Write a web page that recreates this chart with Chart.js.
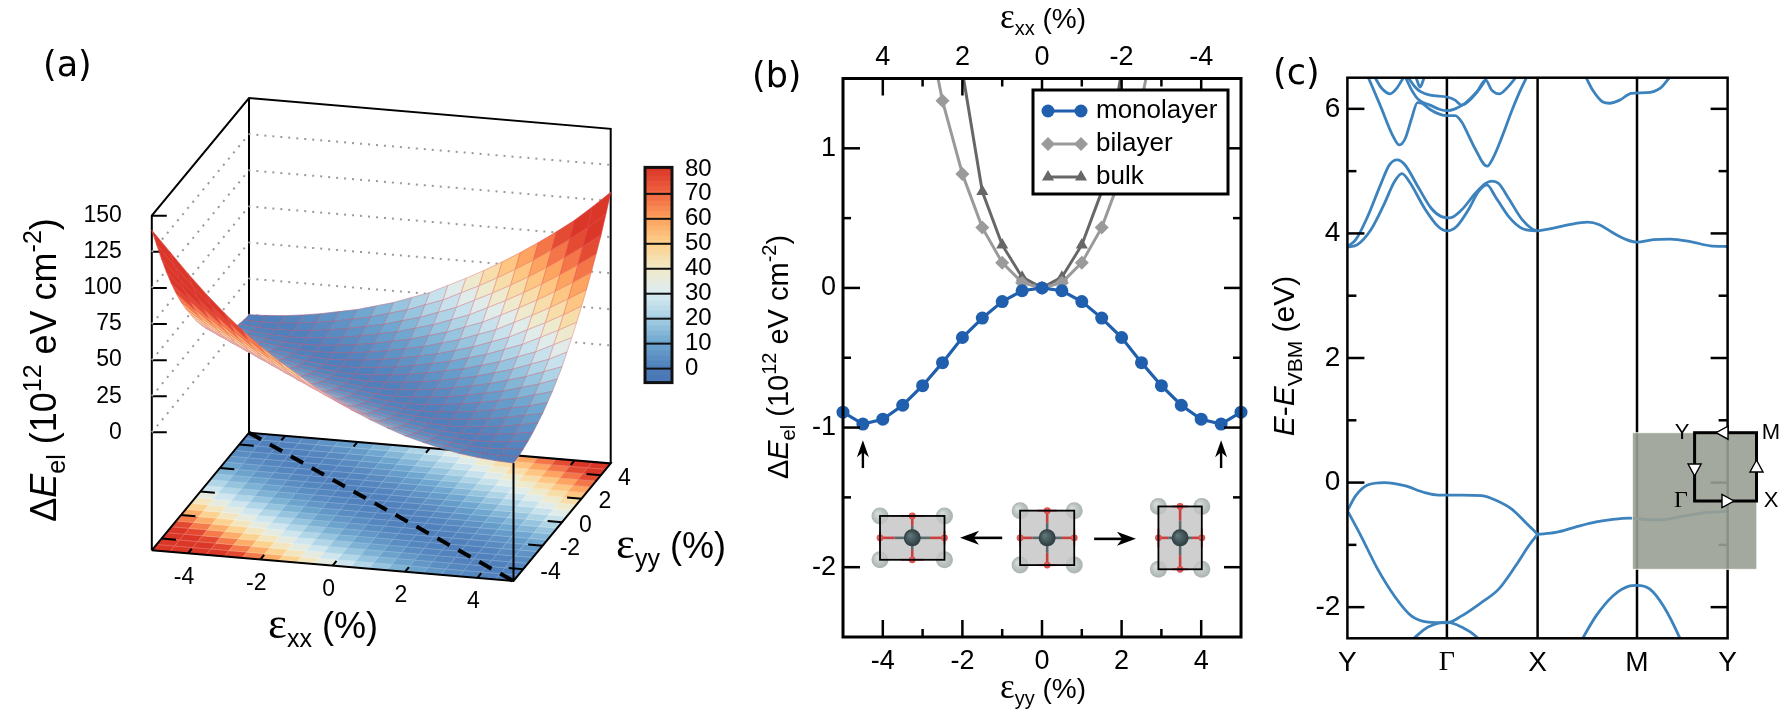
<!DOCTYPE html>
<html>
<head>
<meta charset="utf-8">
<title>Strain panels</title>
<script src="https://cdn.jsdelivr.net/npm/chart.js@4/dist/chart.umd.js"></script>
<style>
    html, body { margin: 0; padding: 0; background: #fff; }
    #page { position: relative; width: 1787px; height: 719px; overflow: hidden; }
    canvas { position: absolute; }
</style>
</head>
<body>
<div id="page">
    <canvas id="panel-a" width="745" height="719" style="left:0;top:0"></canvas>
    <canvas id="panel-bar" width="120" height="270" style="left:620px;top:140px"></canvas>
    <canvas id="panel-b" width="517" height="719" style="left:745px;top:0"></canvas>
    <canvas id="panel-c" width="522" height="719" style="left:1265px;top:0"></canvas>
</div>
<script>
'use strict';

// ---- panel (a): surface, rows are eyy, columns are exx
const strainGrid = [-5,-4.5,-4,-3.5,-3,-2.5,-2,-1.5,-1,-.5,0,.5,1,1.5,2,2.5,3,3.5,4,4.5,5];
const surfaceZ = [
    [140,126,112,99,87,76,66,57,49,41,34,27.5,22,17,12.5,9,6,3.5,1.8,.6,0],
    [126,112,99,87,76,66,57,49,41,34,27.5,22,17,12.5,9,6,3.5,1.8,.6,0,.5],
    [112,99,87,76,66,57,49,41,34,27.5,22,17,12.5,9,6,3.5,1.8,.6,0,.5,1.5],
    [99,87,76,66,57,49,41,34,27.5,22,17,12.5,9,6,3.5,1.8,.6,0,.5,1.5,3],
    [87,76,66,57,49,41,34,27.5,22,17,12.5,9,6,3.5,1.8,.6,0,.5,1.5,3,5],
    [76,66,57,49,41,34,27.5,22,17,12.5,9,6,3.5,1.8,.6,0,.5,1.5,3,5,7.5],
    [66,57,49,41,34,27.5,22,17,12.5,9,6,3.5,1.8,.6,0,.5,1.5,3,5,7.5,10],
    [57,49,41,34,27.5,22,17,12.5,9,6,3.5,1.8,.6,0,.5,1.5,3,5,7.5,10,13.5],
    [49,41,34,27.5,22,17,12.5,9,6,3.5,1.8,.6,0,.5,1.5,3,5,7.5,10,13.5,17],
    [41,34,27.5,22,17,12.5,9,6,3.5,1.8,.6,0,.5,1.5,3,5,7.5,10,13.5,17,21.5],
    [34,27.5,22,17,12.5,9,6,3.5,1.8,.6,0,.5,1.5,3,5,7.5,10,13.5,17,21.5,26],
    [27.5,22,17,12.5,9,6,3.5,1.8,.6,0,.5,1.5,3,5,7.5,10,13.5,17,21.5,26,32],
    [22,17,12.5,9,6,3.5,1.8,.6,0,.5,1.5,3,5,7.5,10,13.5,17,21.5,26,32,38],
    [17,12.5,9,6,3.5,1.8,.6,0,.5,1.5,3,5,7.5,10,13.5,17,21.5,26,32,38,44.5],
    [12.5,9,6,3.5,1.8,.6,0,.5,1.5,3,5,7.5,10,13.5,17,21.5,26,32,38,44.5,51.5],
    [9,6,3.5,1.8,.6,0,.5,1.5,3,5,7.5,10,13.5,17,21.5,26,32,38,44.5,51.5,59],
    [6,3.5,1.8,.6,0,.5,1.5,3,5,7.5,10,13.5,17,21.5,26,32,38,44.5,51.5,59,67],
    [3.5,1.8,.6,0,.5,1.5,3,5,7.5,10,13.5,17,21.5,26,32,38,44.5,51.5,59,67,75.5],
    [1.8,.6,0,.5,1.5,3,5,7.5,10,13.5,17,21.5,26,32,38,44.5,51.5,59,67,75.5,84.5],
    [.6,0,.5,1.5,3,5,7.5,10,13.5,17,21.5,26,32,38,44.5,51.5,59,67,75.5,84.5,95],
    [0,.5,1.5,3,5,7.5,10,13.5,17,21.5,26,32,38,44.5,51.5,59,67,75.5,84.5,95,106]
];
const zTicks = [0,25,50,75,100,125,150];
const floorTicks = [-4,-2,0,2,4];
const barTicks = [0,10,20,30,40,50,60,70,80];
const barSteps = [-5.6,-3,-1,1,3,5,7,9,11,13,15,17,19,21,23,25,27,29,31,33,35,37,39,41,43,45,47,49,51,53,55,57,59,61,63,65,67,69,71,73,75,77,79,80.6];

// ---- panel (b): strain energy
const strainB = [-5,-4.5,-4,-3.5,-3,-2.5,-2,-1.5,-1,-.5,0,.5,1,1.5,2,2.5,3,3.5,4,4.5,5];
const monolayer = [-.89,-.975,-.94,-.84,-.70,-.535,-.355,-.216,-.098,-.02,0,-.02,-.098,-.216,-.355,-.535,-.70,-.84,-.94,-.975,-.89];
const bilayerX = [-3,-2.5,-2,-1.5,-1,-.5,0,.5,1,1.5,2,2.5,3];
const bilayer = [2.05,1.34,.816,.432,.181,.038,0,.038,.181,.432,.816,1.34,2.05];
const bulkX = [-2.5,-2,-1.5,-1,-.5,0,.5,1,1.5,2,2.5];
const bulk = [3,1.55,.69,.308,.077,0,.077,.308,.69,1.55,3];
const bMajorX = [-4,-2,0,2,4];
const bMinorX = [-3,-1,1,3];
const bMajorY = [-2,-1,0,1];
const bMinorY = [-1.5,-.5,.5];
const cellX = [-3.26,.13,3.47];
const cellHalfW = [.81,.68,.545];
const cellHalfH = [.157,.195,.225];
const cellY = -1.79;
const minimumArrowX = [-4.5,4.5];

// ---- panel (c): bands, [path position, energy in eV]
const kPath = [0,99.5,190.2,289.6,380.2];
const kLabels = ['Y','Γ','X','M','Y'];
const cMajorY = [-2,0,2,4,6];
const cMinorY = [-1,1,3,5];
const bandValenceTop = [[0,-.45],[8.4,-.21],[20.2,-.04],[37,0],[57.1,-.05],[77.3,-.16],[90.8,-.2],[114.3,-.2],[134.5,-.21],[147.9,-.28],[164.7,-.43],[178.2,-.64],[190.2,-.83]];
const bandValenceLow = [[0,-.45],[13.4,-.85],[30.3,-1.39],[47,-1.82],[63.9,-2.14],[80.7,-2.24],[99.5,-2.25],[114.3,-2.14],[134.5,-1.92],[151.3,-1.71],[168.1,-1.34],[181.5,-1.01],[190.2,-.83]];
const bandValenceXMY = [[190.2,-.83],[208.4,-.8],[228.6,-.71],[248.7,-.63],[265.5,-.59],[282.4,-.57],[289.4,-.58],[312.6,-.6],[336.1,-.54],[359.7,-.48],[380.2,-.46]];
const bandDomeG = [[60,-2.6],[67.9,-2.48],[80.7,-2.32],[99.5,-2.24],[114.3,-2.32],[129.4,-2.48],[136,-2.6]];
const bandDomeM = [[232,-2.6],[236,-2.48],[248.7,-2.14],[265.5,-1.82],[282.4,-1.66],[289.4,-1.65],[302.5,-1.71],[316,-1.98],[332,-2.48],[335,-2.6]];
const bandCondLow = [[0,3.78],[10,3.82],[23.5,4.06],[37,4.48],[47,4.83],[54.5,4.96],[62,4.83],[77.3,4.4],[90.8,4.11],[99.5,4.04],[109.2,4.11],[121,4.38],[131,4.67],[139.5,4.78],[148,4.59],[161.3,4.27],[174.8,4.08],[190.2,4.04]];
const bandCondHigh = [[0,3.79],[8.4,3.9],[20.2,4.27],[33.6,4.8],[42,5.1],[49.7,5.18],[57.1,5.11],[70.6,4.75],[84,4.4],[94,4.27],[102.5,4.25],[114.3,4.38],[127.7,4.64],[137.8,4.8],[144.5,4.84],[151.3,4.8],[161.3,4.56],[174.8,4.22],[184.9,4.07],[190.2,4.04]];
const bandCondXMY = [[190.2,4.04],[205,4.08],[221.8,4.14],[240.3,4.18],[252,4.14],[265.5,4.01],[279,3.9],[289.4,3.86],[305.9,3.9],[322.7,3.91],[342.9,3.87],[363,3.8],[380.2,3.79]];
const bandUpperMain = [[21,6.5],[32.7,6.06],[46,5.55],[52,5.42],[57.7,5.52],[64.3,5.85],[70,6.1],[74.3,6.09],[82.7,5.99],[92.7,5.91],[99.7,5.89],[107.7,5.89],[114.3,5.79],[121,5.58],[127.7,5.36],[139.7,5.08],[146.2,5.23],[154.6,5.55],[164.7,5.98],[173,6.3],[179,6.5]];
const bandUpperArch = [[27.7,6.5],[34.3,6.33],[42.7,6.24],[49.3,6.33],[56,6.5]];
const bandUpperMid = [[58.3,6.5],[64.3,6.3],[71,6.15],[82.7,6.06],[92.7,5.99],[99.7,5.97],[107.7,6],[117.7,6.09],[129.3,6.27],[138.3,6.46],[144.3,6.3],[152,6.24],[159.3,6.33],[168.3,6.5]];
const bandUpperHigh = [[61,6.5],[67.7,6.35],[72.7,6.28],[82.7,6.22],[99.7,6.19],[107.7,6.14],[114.3,6.06],[126,6.2],[136,6.41],[139.3,6.5]];
const bandUpperLoop = [[68.7,6.5],[72.7,6.35],[76.7,6.5]];
const bandUpperM = [[238.7,6.5],[245.4,6.3],[255.5,6.11],[262.2,6.09],[272.3,6.14],[284,6.25],[299.2,6.26],[312.6,6.33],[322,6.5]];

const SANS = '"Liberation Sans", Arial, sans-serif';
const SERIF = '"Liberation Serif", serif';
const LABEL_FONT = '"DejaVu Sans", sans-serif';
const BAND_COLOR = '#3c82bd';

// colour stops of the palette, z value then colour
const paletteZ = [-6,0,10,20,30,40,50,60,70,80];
const paletteRGB = [[72,116,178],[79,127,187],[110,166,207],[166,208,228],[220,237,242],[242,233,198],[253,207,138],[252,160,92],[240,100,64],[219,55,40]];

function paletteColor(z) {
    const v = Math.max(paletteZ[0], Math.min(80, z));
    let i = 0;
    while (i < paletteZ.length - 2 && v > paletteZ[i + 1]) {
        i++;
    }
    const f = (v - paletteZ[i]) / (paletteZ[i + 1] - paletteZ[i]);
    const c = paletteRGB[i].map((a, k) => Math.round(a + (paletteRGB[i + 1][k] - a) * f));
    return `rgb(${c[0]},${c[1]},${c[2]})`;
}

// text made of runs, needed for sub and superscripts
function drawRuns(ctx, x, y, runs, size, angle, align) {
    ctx.save();
    ctx.translate(x, y);
    ctx.rotate(angle || 0);
    ctx.fillStyle = '#000';
    ctx.textAlign = 'left';
    ctx.textBaseline = 'alphabetic';
    const fontOf = r => `${r.italic ? 'italic ' : ''}${Math.round(size * (r.k || 1))}px ${r.family || SANS}`;
    let total = 0;
    runs.forEach(r => {
        ctx.font = fontOf(r);
        total += ctx.measureText(r.t).width;
    });
    let cx = align === 'left' ? 0 : -total / 2;
    runs.forEach(r => {
        ctx.font = fontOf(r);
        ctx.fillText(r.t, cx, (r.dy || 0) * size);
        cx += ctx.measureText(r.t).width;
    });
    ctx.restore();
}

function panelLabel(ctx, text, x, y) {
    ctx.save();
    ctx.fillStyle = '#000';
    ctx.font = '35px ' + LABEL_FONT;
    ctx.textAlign = 'left';
    ctx.textBaseline = 'middle';
    ctx.fillText(text, x, y);
    ctx.restore();
}

const sub = t => ({ t: t, k: .7, dy: .25 });
const sup = t => ({ t: t, k: .7, dy: -.42 });
const strainRuns = s => [{ t: 'ε', family: SERIF, k: 1.25 }, sub(s), { t: ' (%)' }];
const energyRuns = [{ t: 'Δ' }, { t: 'E', italic: true }, sub('el'), { t: ' (10' }, sup('12'), { t: ' eV cm' }, sup('-2'), { t: ')' }];

// ---- projection of panel (a), view pixels per unit of each axis
const view = { ox: 151.8, oy: 550.3, exX: 36.17, exY: 3.07, eyX: 9.72, eyY: -11.76, zY: -1.444, zFloor: -81.7 };

function project(ex, ey, z) {
    return {
        x: view.ox + (ex + 5) * view.exX + (ey + 5) * view.eyX,
        y: view.oy + (ex + 5) * view.exY + (ey + 5) * view.eyY + (z - view.zFloor) * view.zY
    };
}

function polyline(points) {
    return points.concat([{ x: NaN, y: NaN }]);
}

const floorZ = view.zFloor;
const boxSegments = [].concat(
    polyline([project(-5,-5,floorZ), project(5,-5,floorZ), project(5,5,floorZ), project(-5,5,floorZ), project(-5,-5,floorZ)]),
    polyline([project(-5,-5,floorZ), project(-5,-5,150), project(-5,5,150), project(5,5,150), project(5,5,floorZ)]),
    polyline([project(-5,5,floorZ), project(-5,5,150)]),
    polyline([project(5,-5,floorZ), project(5,-5,0)])
);
const wallSegments = [];
zTicks.slice(0, -1).forEach(z => {
    wallSegments.push(...polyline([project(-5,-5,z), project(-5,5,z), project(5,5,z)]));
});
const tickSegments = [];
zTicks.forEach(z => {
    const p = project(-5,-5,z);
    tickSegments.push(...polyline([p, { x: p.x + 15, y: p.y }]));
});
floorTicks.forEach(t => {
    tickSegments.push(...polyline([project(t,-5,floorZ), project(t,-4.6,floorZ)]));
    tickSegments.push(...polyline([project(t,5,floorZ), project(t,4.6,floorZ)]));
    tickSegments.push(...polyline([project(-5,t,floorZ), project(-4.6,t,floorZ)]));
    tickSegments.push(...polyline([project(5,t,floorZ), project(4.6,t,floorZ)]));
});

function quadPath(ctx, sx, sy, i, j, z) {
    const corners = [[j,i],[j+1,i],[j+1,i+1],[j,i+1]];
    ctx.beginPath();
    corners.forEach((c, k) => {
        const zz = z === null ? surfaceZ[c[1]][c[0]] : z;
        const p = project(strainGrid[c[0]], strainGrid[c[1]], zz);
        const px = sx.getPixelForValue(p.x);
        const py = sy.getPixelForValue(p.y);
        if (k === 0) {
            ctx.moveTo(px, py);
        } else {
            ctx.lineTo(px, py);
        }
    });
    ctx.closePath();
}

function cellZ(i, j) {
    return (surfaceZ[i][j] + surfaceZ[i][j+1] + surfaceZ[i+1][j] + surfaceZ[i+1][j+1]) / 4;
}

const floorMapPlugin = {
    id: 'floorMap',
    beforeDatasetsDraw(chart) {
        const ctx = chart.ctx;
        const sx = chart.scales.x;
        const sy = chart.scales.y;
        ctx.save();
        for (let i = 0; i < strainGrid.length - 1; i++) {
            for (let j = 0; j < strainGrid.length - 1; j++) {
                const color = paletteColor(cellZ(i, j));
                quadPath(ctx, sx, sy, i, j, floorZ);
                ctx.fillStyle = color;
                ctx.strokeStyle = color;
                ctx.lineWidth = .6;
                ctx.fill();
                ctx.stroke();
                quadPath(ctx, sx, sy, i, j, floorZ);
                ctx.strokeStyle = 'rgba(255,255,255,.22)';
                ctx.lineWidth = .7;
                ctx.stroke();
            }
        }
        ctx.restore();
    }
};

const surfacePlugin = {
    id: 'surface',
    afterDatasetsDraw(chart) {
        const ctx = chart.ctx;
        const sx = chart.scales.x;
        const sy = chart.scales.y;
        const cells = [];
        for (let i = 0; i < strainGrid.length - 1; i++) {
            for (let j = 0; j < strainGrid.length - 1; j++) {
                const z = cellZ(i, j);
                const ex = strainGrid[j] + .25;
                const ey = strainGrid[i] + .25;
                // far cells first
                const far = (-.2588 * ex + .966 * ey) * .947 - z * .013;
                cells.push({ i: i, j: j, z: z, far: far });
            }
        }
        cells.sort((a, b) => b.far - a.far);
        ctx.save();
        ctx.lineJoin = 'round';
        cells.forEach(c => {
            const color = paletteColor(c.z);
            quadPath(ctx, sx, sy, c.i, c.j, null);
            ctx.fillStyle = color;
            ctx.strokeStyle = color;
            ctx.lineWidth = .5;
            ctx.fill();
            ctx.stroke();
            quadPath(ctx, sx, sy, c.i, c.j, null);
            ctx.strokeStyle = 'rgba(228,72,90,.42)';
            ctx.lineWidth = .8;
            ctx.stroke();
        });
        ctx.restore();
    }
};

const panelATextPlugin = {
    id: 'panelAText',
    afterDraw(chart) {
        const ctx = chart.ctx;
        const sx = chart.scales.x;
        const sy = chart.scales.y;
        ctx.save();
        ctx.fillStyle = '#000';
        ctx.font = '23px ' + SANS;
        ctx.textBaseline = 'middle';
        ctx.textAlign = 'right';
        zTicks.forEach(z => {
            const p = project(-5,-5,z);
            ctx.fillText(String(z), sx.getPixelForValue(p.x) - 30, sy.getPixelForValue(p.y));
        });
        ctx.textAlign = 'center';
        floorTicks.forEach(t => {
            const p = project(t,-5,floorZ);
            ctx.fillText(String(t), sx.getPixelForValue(p.x) - 4, sy.getPixelForValue(p.y) + 24);
        });
        ctx.textAlign = 'left';
        floorTicks.forEach(t => {
            const p = project(5,t,floorZ);
            ctx.fillText(String(t), sx.getPixelForValue(p.x) + 17, sy.getPixelForValue(p.y) + 3);
        });
        ctx.restore();
        panelLabel(ctx, '(a)', 43, 67);
        drawRuns(ctx, 56, 370, energyRuns, 36, -Math.PI / 2);
        drawRuns(ctx, 323, 638, strainRuns('xx'), 36);
        drawRuns(ctx, 616, 558, strainRuns('yy'), 36, 0, 'left');
    }
};

new Chart(document.getElementById('panel-a'), {
    type: 'scatter',
    data: {
        datasets: [
            { label: 'walls', data: wallSegments, showLine: true, pointRadius: 0, borderColor: '#999', borderWidth: 2, borderDash: [2, 6] },
            { label: 'box', data: boxSegments, showLine: true, pointRadius: 0, borderColor: '#000', borderWidth: 2 },
            { label: 'ticks', data: tickSegments, showLine: true, pointRadius: 0, borderColor: '#000', borderWidth: 2 },
            { label: 'valley', data: [project(-5,5,floorZ), project(5,-5,floorZ)], showLine: true, pointRadius: 0, borderColor: '#000', borderWidth: 4, borderDash: [14, 10] }
        ]
    },
    options: {
        responsive: false,
        animation: false,
        devicePixelRatio: 1,
        layout: { padding: 0 },
        plugins: { legend: { display: false }, tooltip: { enabled: false } },
        scales: {
            x: { type: 'linear', display: false, min: 0, max: 745 },
            y: { type: 'linear', display: false, min: 0, max: 719, reverse: true }
        }
    },
    plugins: [floorMapPlugin, surfacePlugin, panelATextPlugin]
});

// ---- colour bar
const barFramePlugin = {
    id: 'barFrame',
    afterDatasetsDraw(chart) {
        const ctx = chart.ctx;
        const a = chart.chartArea;
        ctx.save();
        ctx.strokeStyle = '#111';
        ctx.lineWidth = 2;
        barTicks.slice(0, -1).forEach(v => {
            const y = chart.scales.y.getPixelForValue(v);
            ctx.beginPath();
            ctx.moveTo(a.left, y);
            ctx.lineTo(a.right, y);
            ctx.stroke();
        });
        ctx.lineWidth = 3;
        ctx.strokeRect(a.left, a.top, a.right - a.left, a.bottom - a.top);
        ctx.restore();
    }
};

new Chart(document.getElementById('panel-bar'), {
    type: 'bar',
    data: {
        labels: ['ΔE'],
        datasets: barSteps.slice(0, -1).map((lo, k) => ({
            data: [[lo, barSteps[k + 1] + .15]],
            backgroundColor: paletteColor((lo + barSteps[k + 1]) / 2),
            borderWidth: 0,
            barPercentage: 1,
            categoryPercentage: 1
        }))
    },
    options: {
        responsive: false,
        animation: false,
        devicePixelRatio: 1,
        layout: { padding: { left: 25, top: 24, bottom: 16, right: 0 } },
        plugins: { legend: { display: false }, tooltip: { enabled: false } },
        scales: {
            x: { stacked: true, display: false },
            y: {
                position: 'right',
                min: -5.6,
                max: 80.6,
                grid: { display: false, drawTicks: false },
                border: { display: false },
                afterBuildTicks: axis => { axis.ticks = barTicks.map(v => ({ value: v })); },
                afterFit: axis => { axis.width = 68; },
                ticks: { padding: 13, color: '#000', autoSkip: false, font: { size: 24, family: SANS } }
            }
        }
    },
    plugins: [barFramePlugin]
});

// inward ticks and the frame, shared by (b) and (c)
function inwardTick(ctx, a, x, y, side, len) {
    ctx.beginPath();
    if (side === 'top' || side === 'bottom') {
        const edge = side === 'top' ? a.top : a.bottom;
        ctx.moveTo(x, edge);
        ctx.lineTo(x, edge + (side === 'top' ? len : -len));
    } else {
        const edge = side === 'left' ? a.left : a.right;
        ctx.moveTo(edge, y);
        ctx.lineTo(edge + (side === 'left' ? len : -len), y);
    }
    ctx.stroke();
}

function drawFrame(chart, opts) {
    const ctx = chart.ctx;
    const a = chart.chartArea;
    const sx = chart.scales.x;
    const sy = chart.scales.y;
    ctx.save();
    ctx.strokeStyle = '#000';
    ctx.lineWidth = opts.tickWidth;
    (opts.majorX || []).forEach(v => {
        inwardTick(ctx, a, sx.getPixelForValue(v), 0, 'top', opts.majorLen);
        inwardTick(ctx, a, sx.getPixelForValue(v), 0, 'bottom', opts.majorLen);
    });
    (opts.minorX || []).forEach(v => {
        inwardTick(ctx, a, sx.getPixelForValue(v), 0, 'top', opts.minorLen);
        inwardTick(ctx, a, sx.getPixelForValue(v), 0, 'bottom', opts.minorLen);
    });
    opts.majorY.forEach(v => {
        inwardTick(ctx, a, 0, sy.getPixelForValue(v), 'left', opts.majorLen);
        inwardTick(ctx, a, 0, sy.getPixelForValue(v), 'right', opts.majorLen);
    });
    opts.minorY.forEach(v => {
        inwardTick(ctx, a, 0, sy.getPixelForValue(v), 'left', opts.minorLen);
        inwardTick(ctx, a, 0, sy.getPixelForValue(v), 'right', opts.minorLen);
    });
    ctx.lineWidth = opts.frameWidth;
    ctx.strokeRect(a.left, a.top, a.right - a.left, a.bottom - a.top);
    ctx.restore();
}

function arrow(ctx, x0, y0, x1, y1, head, halfW, width) {
    const ang = Math.atan2(y1 - y0, x1 - x0);
    ctx.save();
    ctx.strokeStyle = '#000';
    ctx.fillStyle = '#000';
    ctx.lineWidth = width;
    ctx.beginPath();
    ctx.moveTo(x0, y0);
    ctx.lineTo(x1 - Math.cos(ang) * head * .7, y1 - Math.sin(ang) * head * .7);
    ctx.stroke();
    ctx.translate(x1, y1);
    ctx.rotate(ang);
    ctx.beginPath();
    ctx.moveTo(0, 0);
    ctx.lineTo(-head, -halfW);
    ctx.lineTo(-head * .72, 0);
    ctx.lineTo(-head, halfW);
    ctx.closePath();
    ctx.fill();
    ctx.restore();
}

function atom(ctx, x, y, r, light, dark) {
    const g = ctx.createRadialGradient(x - r * .3, y - r * .3, r * .1, x, y, r);
    g.addColorStop(0, light);
    g.addColorStop(1, dark);
    ctx.fillStyle = g;
    ctx.beginPath();
    ctx.arc(x, y, r, 0, Math.PI * 2);
    ctx.fill();
}

function drawCell(ctx, cx, cy, hw, hh) {
    ctx.save();
    [[-1,-1],[1,-1],[-1,1],[1,1]].forEach(s => {
        atom(ctx, cx + s[0] * hw, cy + s[1] * hh, 8.5, '#d5dbd9', '#a9b3b0');
    });
    ctx.fillStyle = 'rgba(196,196,196,.82)';
    ctx.fillRect(cx - hw, cy - hh, hw * 2, hh * 2);
    // bonds: grey towards the middle, red towards the oxygen
    ctx.lineWidth = 2.6;
    [[1,0,hw],[-1,0,hw],[0,1,hh],[0,-1,hh]].forEach(d => {
        const ex = cx + d[0] * d[2];
        const ey = cy + d[1] * d[2];
        const mx = cx + d[0] * d[2] * .55;
        const my = cy + d[1] * d[2] * .55;
        ctx.strokeStyle = '#5b6b6c';
        ctx.beginPath();
        ctx.moveTo(cx, cy);
        ctx.lineTo(mx, my);
        ctx.stroke();
        ctx.strokeStyle = '#c9403f';
        ctx.beginPath();
        ctx.moveTo(mx, my);
        ctx.lineTo(ex, ey);
        ctx.stroke();
        atom(ctx, ex, ey, 3.4, '#ef6a66', '#d84a48');
    });
    // oxygen bridges on the cell edges
    ctx.strokeStyle = 'rgba(205,60,60,.75)';
    ctx.lineWidth = 2;
    [[-hw * .35, -hh, hw * .35, -hh], [-hw * .35, hh, hw * .35, hh], [-hw, -hh * .3, -hw, hh * .3], [hw, -hh * .3, hw, hh * .3]].forEach(s => {
        ctx.beginPath();
        ctx.moveTo(cx + s[0], cy + s[1]);
        ctx.lineTo(cx + s[2], cy + s[3]);
        ctx.stroke();
    });
    atom(ctx, cx, cy, 8.5, '#5f7578', '#2c3c3f');
    ctx.strokeStyle = '#000';
    ctx.lineWidth = 1.8;
    ctx.strokeRect(cx - hw, cy - hh, hw * 2, hh * 2);
    ctx.restore();
}

const panelBDecorPlugin = {
    id: 'panelBDecor',
    afterDatasetsDraw(chart) {
        const ctx = chart.ctx;
        const sx = chart.scales.x;
        const sy = chart.scales.y;
        cellX.forEach((x, k) => {
            const cx = sx.getPixelForValue(x);
            const hw = sx.getPixelForValue(x + cellHalfW[k]) - cx;
            const cy = sy.getPixelForValue(cellY);
            const hh = sy.getPixelForValue(cellY - cellHalfH[k]) - cy;
            drawCell(ctx, cx, cy, hw, hh);
        });
        const ay = sy.getPixelForValue(cellY);
        arrow(ctx, sx.getPixelForValue(-1), ay, sx.getPixelForValue(-2.06), ay, 19, 7, 2.6);
        arrow(ctx, sx.getPixelForValue(1.31), ay + 1, sx.getPixelForValue(2.36), ay + 1, 19, 7, 2.6);
        minimumArrowX.forEach(x => {
            const px = sx.getPixelForValue(x);
            arrow(ctx, px, sy.getPixelForValue(-1.29), px, sy.getPixelForValue(-1.09), 17, 6, 2.4);
        });
        drawFrame(chart, { majorX: bMajorX, minorX: bMinorX, majorY: bMajorY, minorY: bMinorY, majorLen: 17, minorLen: 8, tickWidth: 2.5, frameWidth: 3 });

        // legend box
        const lx = 1033 - 745;
        ctx.save();
        ctx.fillStyle = '#fff';
        ctx.strokeStyle = '#000';
        ctx.lineWidth = 3;
        ctx.fillRect(lx, 90, 195, 104);
        ctx.strokeRect(lx, 90, 195, 104);
        ctx.font = '26px ' + SANS;
        ctx.textBaseline = 'middle';
        chart.data.datasets.forEach((d, k) => {
            const ly = 111 + k * 33;
            ctx.strokeStyle = d.borderColor;
            ctx.fillStyle = d.backgroundColor;
            ctx.lineWidth = 3;
            ctx.beginPath();
            ctx.moveTo(lx + 15, ly);
            ctx.lineTo(lx + 48, ly);
            ctx.stroke();
            [lx + 15, lx + 48].forEach(mx => {
                Chart.helpers.drawPoint(ctx, { pointStyle: d.pointStyle, radius: d.pointRadius, rotation: 0, borderWidth: 0 }, mx, ly);
            });
            ctx.fillStyle = '#000';
            ctx.textAlign = 'left';
            ctx.fillText(d.label, lx + 63, ly);
        });
        ctx.restore();
    },
    afterDraw(chart) {
        const ctx = chart.ctx;
        panelLabel(ctx, '(b)', 7, 78);
        drawRuns(ctx, 43, 357, energyRuns, 29, -Math.PI / 2);
        drawRuns(ctx, 298, 28, strainRuns('xx'), 28);
        drawRuns(ctx, 298, 698, strainRuns('yy'), 28);
    }
};

new Chart(document.getElementById('panel-b'), {
    type: 'scatter',
    data: {
        datasets: [
            {
                label: 'monolayer',
                data: strainB.map((x, k) => ({ x: x, y: monolayer[k] })),
                showLine: true, clip: 9, borderColor: '#1f5fae', backgroundColor: '#1f5fae',
                borderWidth: 3.2, pointRadius: 6.5, pointStyle: 'circle', pointBorderWidth: 0
            },
            {
                label: 'bilayer',
                data: bilayerX.map((x, k) => ({ x: x, y: bilayer[k] })),
                showLine: true, borderColor: '#9a9a9a', backgroundColor: '#9a9a9a',
                borderWidth: 3, pointRadius: 7, pointStyle: 'rectRot', pointBorderWidth: 0
            },
            {
                label: 'bulk',
                data: bulkX.map((x, k) => ({ x: x, y: bulk[k] })),
                showLine: true, borderColor: '#676767', backgroundColor: '#676767',
                borderWidth: 3, pointRadius: 7, pointStyle: 'triangle', pointBorderWidth: 0
            }
        ]
    },
    options: {
        responsive: false,
        animation: false,
        devicePixelRatio: 1,
        layout: { padding: { right: 21 } },
        plugins: { legend: { display: false }, tooltip: { enabled: false } },
        scales: {
            x: {
                type: 'linear', position: 'bottom', min: -5, max: 5,
                grid: { display: false, drawTicks: false }, border: { display: false },
                afterBuildTicks: axis => { axis.ticks = bMajorX.map(v => ({ value: v })); },
                afterFit: axis => { axis.height = 82; },
                ticks: { padding: 8, color: '#000', maxRotation: 0, font: { size: 27, family: SANS } }
            },
            x2: {
                type: 'linear', position: 'top', min: -5, max: 5, reverse: true,
                grid: { display: false, drawTicks: false }, border: { display: false },
                afterBuildTicks: axis => { axis.ticks = bMajorX.map(v => ({ value: v })); },
                afterFit: axis => { axis.height = 78.5; },
                ticks: { padding: 5, color: '#000', maxRotation: 0, font: { size: 27, family: SANS } }
            },
            y: {
                type: 'linear', min: -2.5, max: 1.5,
                grid: { display: false, drawTicks: false }, border: { display: false },
                afterBuildTicks: axis => { axis.ticks = bMajorY.map(v => ({ value: v })); },
                afterFit: axis => { axis.width = 98; },
                ticks: { padding: 7, color: '#000', font: { size: 27, family: SANS } }
            }
        }
    },
    plugins: [panelBDecorPlugin]
});

// ---- panel (c)
const panelCDecorPlugin = {
    id: 'panelCDecor',
    beforeDatasetsDraw(chart) {
        const ctx = chart.ctx;
        const a = chart.chartArea;
        ctx.save();
        ctx.strokeStyle = '#000';
        ctx.lineWidth = 2.5;
        kPath.slice(1, -1).forEach(k => {
            const x = chart.scales.x.getPixelForValue(k);
            ctx.beginPath();
            ctx.moveTo(x, a.top);
            ctx.lineTo(x, a.bottom);
            ctx.stroke();
        });
        ctx.restore();
    },
    afterDatasetsDraw(chart) {
        drawFrame(chart, { majorY: cMajorY, minorY: cMinorY, majorLen: 17, minorLen: 9, tickWidth: 2.5, frameWidth: 2.5 });
    },
    afterDraw(chart) {
        const ctx = chart.ctx;
        panelLabel(ctx, '(c)', 8, 75);
        drawRuns(ctx, 29, 356, [{ t: 'E', italic: true }, { t: '-' }, { t: 'E', italic: true }, sub('VBM'), { t: ' (eV)' }], 30, -Math.PI / 2);

        // brillouin zone inset, canvas offset is 1265
        const left = 1632.4 - 1265;
        const right = 1756.8 - 1265;
        const top = 432.7;
        const bottom = 569.3;
        ctx.save();
        ctx.fillStyle = 'rgba(153,160,148,.9)';
        ctx.strokeStyle = 'rgba(255,255,255,.8)';
        ctx.lineWidth = 1;
        ctx.fillRect(left, top, right - left, bottom - top);
        ctx.strokeRect(left, top, right - left, bottom - top);
        const rl = 1694.6 - 1265;
        const rr = 1756.5 - 1265;
        const rb = 501;
        ctx.strokeStyle = '#000';
        ctx.lineWidth = 3;
        ctx.strokeRect(rl, top, rr - rl, rb - top);
        const tri = (x, y, ang) => {
            ctx.save();
            ctx.translate(x, y);
            ctx.rotate(ang);
            ctx.beginPath();
            ctx.moveTo(9, 0);
            ctx.lineTo(-3, -6.5);
            ctx.lineTo(-3, 6.5);
            ctx.closePath();
            ctx.fillStyle = '#fff';
            ctx.fill();
            ctx.strokeStyle = '#000';
            ctx.lineWidth = 1.4;
            ctx.stroke();
            ctx.restore();
        };
        tri(1725 - 1265, top, Math.PI);
        tri(rl, 467, Math.PI / 2);
        tri(1725 - 1265, rb, 0);
        tri(rr, 469, -Math.PI / 2);
        ctx.fillStyle = '#000';
        ctx.textBaseline = 'middle';
        ctx.textAlign = 'center';
        ctx.font = '22px ' + SANS;
        ctx.fillText('Y', 1682 - 1265, 433);
        ctx.fillText('M', 1771 - 1265, 433);
        ctx.fillText('X', 1771 - 1265, 501);
        ctx.font = '24px ' + SERIF;
        ctx.fillText('Γ', 1681 - 1265, 501);
        ctx.restore();
    }
};

const allBands = [bandValenceTop, bandValenceLow, bandValenceXMY, bandDomeG, bandDomeM, bandCondLow, bandCondHigh, bandCondXMY, bandUpperMain, bandUpperArch, bandUpperMid, bandUpperHigh, bandUpperLoop, bandUpperM];

new Chart(document.getElementById('panel-c'), {
    type: 'scatter',
    data: {
        datasets: allBands.map(band => ({
            data: band.map(p => ({ x: p[0], y: p[1] })),
            showLine: true,
            pointRadius: 0,
            borderColor: BAND_COLOR,
            borderWidth: 2.8,
            cubicInterpolationMode: 'monotone'
        }))
    },
    options: {
        responsive: false,
        animation: false,
        devicePixelRatio: 1,
        layout: { padding: { right: 59.4, top: 77.7 } },
        plugins: { legend: { display: false }, tooltip: { enabled: false } },
        scales: {
            x: {
                type: 'linear', min: kPath[0], max: kPath[4],
                grid: { display: false, drawTicks: false }, border: { display: false },
                afterBuildTicks: axis => { axis.ticks = kPath.map(v => ({ value: v })); },
                afterFit: axis => { axis.height = 80.7; },
                ticks: {
                    padding: 8, color: '#000', maxRotation: 0,
                    callback: (value, index) => kLabels[index],
                    font: ctx => ({ size: 28, family: ctx.index === 1 ? SERIF : SANS })
                }
            },
            y: {
                type: 'linear', min: -2.5, max: 6.5,
                grid: { display: false, drawTicks: false }, border: { display: false },
                afterBuildTicks: axis => { axis.ticks = cMajorY.map(v => ({ value: v })); },
                afterFit: axis => { axis.width = 82.4; },
                ticks: { padding: 7, color: '#000', font: { size: 28, family: SANS } }
            }
        }
    },
    plugins: [panelCDecorPlugin]
});
</script>
</body>
</html>
